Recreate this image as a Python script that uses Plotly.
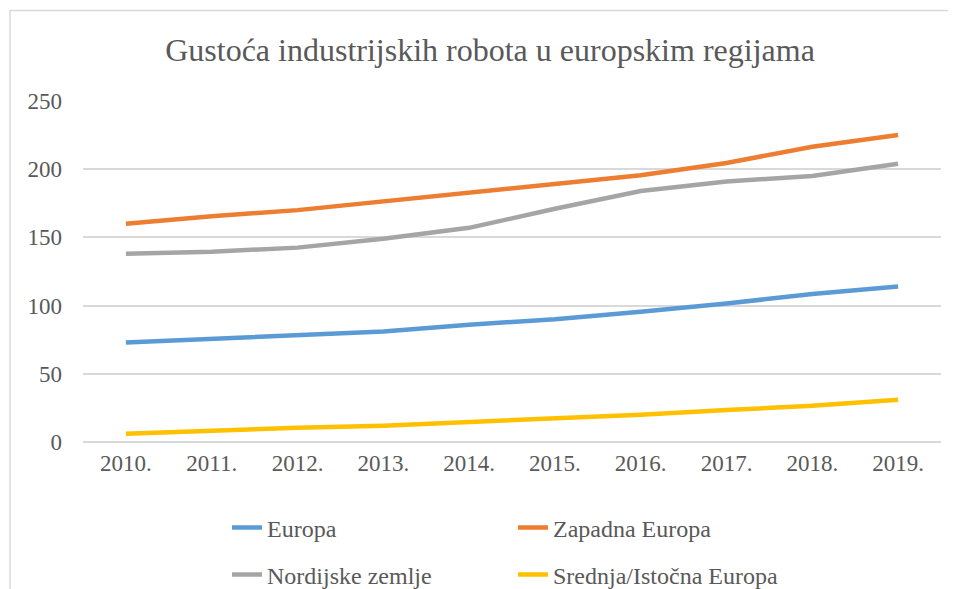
import plotly.graph_objects as go

years = ["2010.", "2011.", "2012.", "2013.", "2014.", "2015.", "2016.", "2017.", "2018.", "2019."]
europa = [73, 75.5, 78, 81, 86, 90, 95.5, 101.5, 108.5, 114]
zapadna = [160, 165.5, 170, 176.5, 182.5, 189, 195.5, 204.5, 216.5, 225]
nordijske = [138, 139.5, 142.5, 149, 157, 171, 184, 191, 195, 204]
srednja = [6, 8.5, 10.5, 12, 14.5, 17.5, 20, 23.5, 26.5, 31]

series = [
    ("Europa", europa, "#5B9BD5", "legend"),
    ("Zapadna Europa", zapadna, "#ED7D31", "legend"),
    ("Nordijske zemlje", nordijske, "#A5A5A5", "legend2"),
    ("Srednja/Istočna Europa", srednja, "#FFC000", "legend2"),
]

FONT = "Liberation Serif"
TXT = "#595959"

fig = go.Figure()
for name, vals, col, lg in series:
    fig.add_trace(go.Scatter(x=years, y=vals, name=name, mode="lines", legend=lg,
                             line=dict(color=col, width=4.5)))

# page has an 8px body margin: target pixel p maps to figure pixel p - 8
OFF = 8
W, H = 956 - OFF, 589 - OFF
L, R, T, B = 83 - OFF, 956 - 941, 101 - OFF, 589 - 442
pw, ph = W - L - R, H - T - B

def px_x(p):
    return (p - OFF - L) / pw

def px_y(p):
    return (H - B - (p - OFF)) / ph

fig.add_shape(type="rect", xref="paper", yref="paper",
              x0=px_x(10), x1=px_x(1000), y0=px_y(10.5), y1=px_y(700),
              line=dict(color="#D9D9D9", width=1.5), fillcolor="rgba(0,0,0,0)", layer="below")

leg_common = dict(orientation="h", xanchor="left", yanchor="middle",
                  entrywidth=241, entrywidthmode="pixels",
                  font=dict(size=24, family=FONT, color=TXT),
                  traceorder="normal", bgcolor="rgba(0,0,0,0)")

fig.update_layout(
    template="none",
    width=W, height=H,
    margin=dict(l=L, r=R, t=T, b=B, autoexpand=False),
    paper_bgcolor="white", plot_bgcolor="white",
    font=dict(family=FONT, color=TXT, size=23),
    title=dict(text="Gustoća industrijskih robota u europskim regijama",
               xref="container", yref="container",
               x=(490 - OFF) / W, xanchor="center", y=1 - (50 - OFF) / H, yanchor="middle",
               font=dict(size=32, color=TXT, family=FONT)),
    xaxis=dict(type="category", range=[-0.5, 9.5], showgrid=False, showline=False,
               ticks="", ticklabelstandoff=5,
               tickfont=dict(size=23, family=FONT, color=TXT), fixedrange=True),
    yaxis=dict(range=[0, 250], dtick=50, showgrid=True, gridcolor="#D9D9D9", gridwidth=1.5,
               zeroline=True, zerolinecolor="#D9D9D9", zerolinewidth=1.5,
               showline=False, ticks="", ticklabelstandoff=20,
               tickfont=dict(size=23, family=FONT, color=TXT)),
    legend=dict(x=px_x(227), y=px_y(528), **leg_common),
    legend2=dict(x=px_x(227), y=px_y(575), **leg_common),
    showlegend=True,
)

fig.write_html("out.html")
